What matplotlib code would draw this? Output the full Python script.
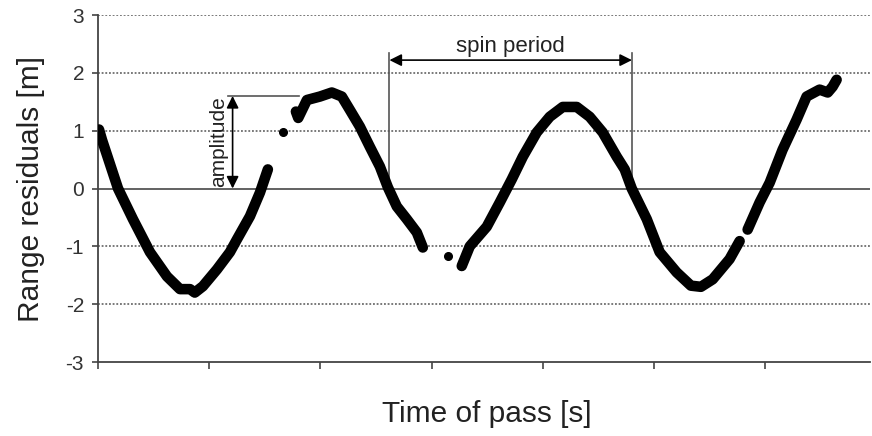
import numpy as np
import matplotlib
matplotlib.use("Agg")
import matplotlib.pyplot as plt

plt.rcParams['font.family'] = ['Liberation Sans', 'DejaVu Sans']

# Readings (time in tick units, residual in m); None separates gaps in the track
time_s = [0.009, 0.036, 0.18, 0.314, 0.467, 0.62, 0.737, 0.827, 0.87, 0.943, 1.069, 1.186,
          1.249, 1.366, 1.456, 1.527, None,
          1.779, 1.80, 1.878, 1.995, 2.102, 2.192, 2.264, 2.354, 2.444, 2.534, 2.606, 2.686,
          2.776, 2.866, 2.920, None,
          3.270, 3.342, 3.495, 3.612, 3.720, 3.819, 3.944, 4.061, 4.178, 4.304, 4.420,
          4.537, 4.663, 4.735, 4.798, 4.933, 5.049, 5.202, 5.330, 5.420, 5.526, 5.678, 5.768, None,
          5.840, 5.948, 6.038, 6.154, 6.280, 6.370, 6.487, 6.560, 6.604, 6.640]
residual_m = [1.02, 0.84, 0.0, -0.53, -1.10, -1.52, -1.74, -1.74, -1.80, -1.69, -1.40, -1.10,
              -0.88, -0.48, -0.07, 0.33, None,
              1.33, 1.22, 1.53, 1.59, 1.66, 1.59, 1.36, 1.07, 0.72, 0.38, 0.02, -0.31,
              -0.53, -0.76, -1.02, None,
              -1.34, -1.00, -0.66, -0.24, 0.16, 0.55, 0.97, 1.24, 1.41, 1.41, 1.24,
              0.97, 0.55, 0.33, 0.0, -0.53, -1.10, -1.45, -1.68, -1.70, -1.57, -1.22, -0.91, None,
              -0.71, -0.24, 0.10, 0.67, 1.19, 1.59, 1.71, 1.66, 1.76, 1.88]
outlier_t = [1.662, 3.145]
outlier_v = [0.98, -1.16]

y_ticks = [-3, -2, -1, 0, 1, 2, 3]
x_ticks = [0, 1, 2, 3, 4, 5, 6]

t = np.array([np.nan if v is None else v for v in time_s], dtype=float)
r = np.array([np.nan if v is None else v for v in residual_m], dtype=float)

fig = plt.figure(figsize=(8.72, 4.36), dpi=100)
ax = fig.add_axes([98/872, 1-362/436, 772/872, 347/436])

ax.set_xlim(0, 6.94)
ax.set_ylim(-3, 3)

# grid
for yv in [-2, -1, 1, 2, 3]:
    ax.axhline(yv, color='#555555', lw=1.1, ls=(0, (1.2, 1.2)), zorder=1)
ax.axhline(0, color='#555555', lw=1.3, zorder=1)

ax.plot(t, r, color='black', lw=7.6, solid_capstyle='round', solid_joinstyle='round', zorder=3)
ax.plot(outlier_t, outlier_v, 'o', color='black', ms=5.5, zorder=3)

# annotations
ac = '#555555'
ax.plot([1.17, 1.81], [1.6, 1.6], color=ac, lw=1.2, zorder=2)
ax.annotate('', xy=(1.21, 0.0), xytext=(1.21, 1.6),
            arrowprops=dict(arrowstyle='<|-|>', color='black', lw=1.2,
                            mutation_scale=18, shrinkA=0, shrinkB=0))
ax.text(1.08, 0.81, 'amplitude', rotation=90, ha='center', va='center',
        fontsize=15, color='#222222')

ax.plot([2.62, 2.62], [0, 2.34], color=ac, lw=1.2, zorder=2)
ax.plot([4.80, 4.80], [0, 2.34], color=ac, lw=1.2, zorder=2)
ax.annotate('', xy=(2.62, 2.22), xytext=(4.80, 2.22),
            arrowprops=dict(arrowstyle='<|-|>', color='black', lw=1.2,
                            mutation_scale=18, shrinkA=0, shrinkB=0))
ax.text(3.71, 2.45, 'spin period', ha='center', va='center', fontsize=16, color='#222222')

# axes styling
for s in ['top', 'right']:
    ax.spines[s].set_visible(False)
for s in ['left', 'bottom']:
    ax.spines[s].set_color('#444444')
    ax.spines[s].set_linewidth(1.3)

ax.set_yticks(y_ticks)
ax.set_yticklabels([str(v) for v in y_ticks])
ax.set_xticks(x_ticks)
ax.set_xticklabels([])
ax.tick_params(axis='y', direction='out', length=4, width=1.2, colors='#444444',
               labelsize=15, labelcolor='#333333', pad=6)
ax.tick_params(axis='x', direction='out', length=5, width=1.2, colors='#444444')

ax.set_xlabel('Time of pass [s]', fontsize=21.5, color='#222222')
ax.set_ylabel('Range residuals [m]', fontsize=21.5, color='#222222')
ax.xaxis.set_label_coords(0.503, -0.11)
ax.yaxis.set_label_coords(-0.069, 0.5)

fig.savefig('out.png', dpi=100)
